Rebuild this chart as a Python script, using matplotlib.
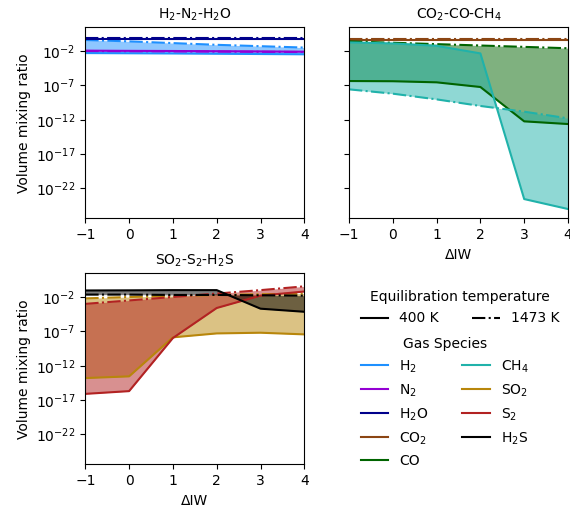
import numpy as np
import matplotlib
matplotlib.use('Agg')
import matplotlib.pyplot as plt
from matplotlib.lines import Line2D
from matplotlib.ticker import NullLocator

# Delta IW grid
diw = [-1, 0, 1, 2, 3, 4]

# log10 volume mixing ratios, (400 K, 1473 K)
h2_400 = [-2.3, -2.33, -2.36, -2.4, -2.44, -2.48]
h2_1473 = [-0.4, -0.6, -0.85, -1.1, -1.3, -1.5]
n2_400 = [-1.95, -1.98, -2.0, -2.03, -2.06, -2.1]
n2_1473 = [-2.0, -2.03, -2.06, -2.09, -2.12, -2.15]
h2o_400 = [-0.2, -0.2, -0.2, -0.2, -0.2, -0.2]
h2o_1473 = [-0.12, -0.12, -0.12, -0.12, -0.12, -0.12]

co2_400 = [-0.4, -0.4, -0.4, -0.4, -0.4, -0.4]
co2_1473 = [-0.32, -0.32, -0.32, -0.32, -0.32, -0.32]
co_400 = [-6.37, -6.4, -6.56, -7.24, -12.24, -12.63]
co_1473 = [-0.6, -0.8, -1.0, -1.2, -1.4, -1.6]
ch4_400 = [-0.75, -0.9, -1.25, -2.35, -23.55, -25.0]
ch4_1473 = [-7.58, -8.21, -9.04, -10.0, -10.83, -11.8]

so2_400 = [-13.8, -13.55, -7.87, -7.3, -7.2, -7.44]
so2_1473 = [-2.2, -2.0, -1.85, -1.7, -1.6, -1.5]
s2_400 = [-16.1, -15.7, -7.97, -3.6, -1.8, -1.2]
s2_1473 = [-3.0, -2.5, -2.0, -1.5, -1.0, -0.45]
h2s_400 = [-1.05, -1.03, -1.0, -1.0, -3.7, -4.15]
h2s_1473 = [-1.65, -1.65, -1.7, -1.7, -1.75, -1.8]

colors = {
    'H$_2$': 'dodgerblue', 'N$_2$': 'darkviolet', 'H$_2$O': 'darkblue',
    'CO$_2$': 'saddlebrown', 'CO': 'darkgreen', 'CH$_4$': 'lightseagreen',
    'SO$_2$': 'darkgoldenrod', 'S$_2$': 'firebrick', 'H$_2$S': 'black',
}

panels = [
    ('H$_2$-N$_2$-H$_2$O', [('H$_2$', h2_400, h2_1473), ('N$_2$', n2_400, n2_1473),
                            ('H$_2$O', h2o_400, h2o_1473)]),
    ('CO$_2$-CO-CH$_4$', [('CO$_2$', co2_400, co2_1473), ('CO', co_400, co_1473),
                          ('CH$_4$', ch4_400, ch4_1473)]),
    ('SO$_2$-S$_2$-H$_2$S', [('SO$_2$', so2_400, so2_1473), ('S$_2$', s2_400, s2_1473),
                             ('H$_2$S', h2s_400, h2s_1473)]),
]

fig = plt.figure(figsize=(5.7, 5.07), dpi=100)
w, h = 219 / 570, 191 / 507
ax1 = fig.add_axes([85.3 / 570, 1 - 218.3 / 507, w, h])
ax2 = fig.add_axes([349 / 570, 1 - 218.3 / 507, w, h], sharey=ax1)
ax3 = fig.add_axes([85.3 / 570, 1 - 464.3 / 507, w, h], sharey=ax1)

for ax, (title, species) in zip([ax1, ax2, ax3], panels):
    for name, lo, hi in species:
        c = colors[name]
        y_lo = 10.0 ** np.array(lo)
        y_hi = 10.0 ** np.array(hi)
        ax.fill_between(diw, y_lo, y_hi, color=c, alpha=0.5, lw=0)
        ax.plot(diw, y_lo, color=c, ls='-', lw=1.5)
        ax.plot(diw, y_hi, color=c, ls='-.', lw=1.5)
    ax.set_yscale('log')
    ax.set_title(title, fontsize=10)
    ax.set_xlim(-1, 4)
    ax.set_xticks(diw)

ax1.set_ylim(10 ** -26.35, 10 ** 1.45)
ax1.set_yticks([1e-22, 1e-17, 1e-12, 1e-7, 1e-2])
for ax in [ax1, ax2, ax3]:
    ax.yaxis.set_minor_locator(NullLocator())
ax2.tick_params(labelleft=False)
ax1.set_ylabel('Volume mixing ratio')
ax3.set_ylabel('Volume mixing ratio')
ax2.set_xlabel('ΔIW')
ax3.set_xlabel('ΔIW')

# legends
temp_handles = [Line2D([], [], color='k', ls='-'), Line2D([], [], color='k', ls='-.')]
leg1 = fig.legend(temp_handles, ['400 K', '1473 K'], title='Equilibration temperature',
                  ncol=2, frameon=False, loc='upper left', columnspacing=2.4,
                  bbox_to_anchor=(348 / 570, 1 - 278 / 507))
order = ['H$_2$', 'N$_2$', 'H$_2$O', 'CO$_2$', 'CO', 'CH$_4$', 'SO$_2$', 'S$_2$', 'H$_2$S']
gas_handles = [Line2D([], [], color=colors[n]) for n in order]
leg2 = fig.legend(gas_handles, order, title='Gas Species', ncol=2, frameon=False,
                  loc='upper left', columnspacing=2.4, labelspacing=0.55,
                  bbox_to_anchor=(348 / 570, 1 - 324 / 507))

fig.savefig('out.png', dpi=100)
